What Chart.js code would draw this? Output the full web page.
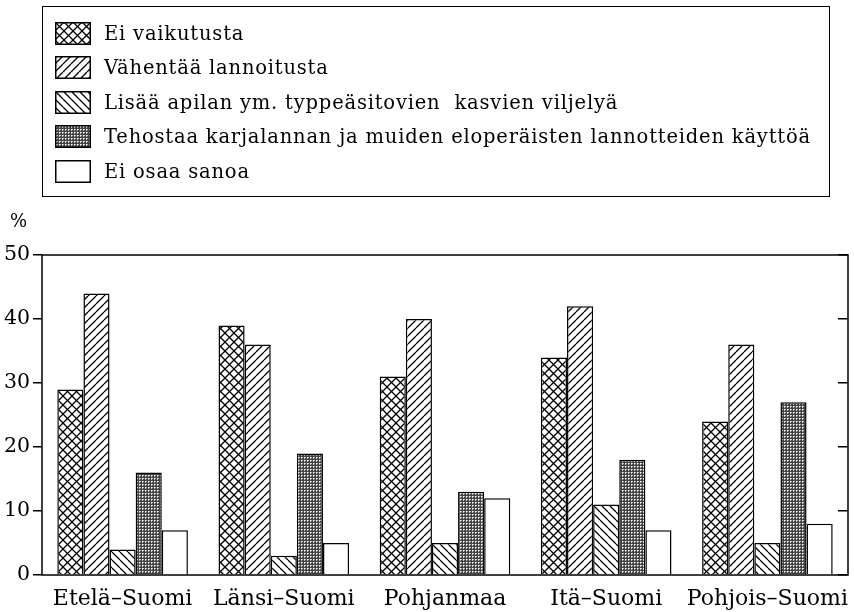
<!DOCTYPE html>
<html>
<head>
<meta charset="utf-8">
<script src="https://cdn.jsdelivr.net/npm/chart.js@4.4.1/dist/chart.umd.min.js"></script>
<style>
html, body { margin: 0; padding: 0; background: #fff; }
#wrap { position: relative; width: 854px; height: 612px; }
#legend {
    position: absolute; left: 42px; top: 6px; width: 788px; height: 191px;
    border: 1.5px solid #000; box-sizing: border-box;
    font-family: 'DejaVu Serif', serif; font-size: 19.5px; letter-spacing: 0.8px; color: #000;
}
.item { position: absolute; left: 12px; height: 23px; display: flex; align-items: center; white-space: pre; }
.item canvas { margin-right: 13px; }
#unit { position: absolute; left: 10px; top: 210px; font-family: 'DejaVu Serif', serif; font-size: 18px; color: #000; }
#chart { position: absolute; left: 0; top: 0; }
</style>
</head>
<body>
<div id="wrap">
    <canvas id="chart" width="854" height="612"></canvas>
    <div id="legend"></div>
    <div id="unit"></div>
</div>
<script>
// 데이터
const regions = ['Etelä–Suomi', 'Länsi–Suomi', 'Pohjanmaa', 'Itä–Suomi', 'Pohjois–Suomi'];
const seriesLabels = [
    'Ei vaikutusta',
    'Vähentää lannoitusta',
    'Lisää apilan ym. typpeäsitovien  kasvien viljelyä',
    'Tehostaa karjalannan ja muiden eloperäisten lannotteiden käyttöä',
    'Ei osaa sanoa'
];
const eiVaikutusta = [29, 39, 31, 34, 24];
const vahentaa = [44, 36, 40, 42, 36];
const lisaaApilan = [4, 3, 5, 11, 5];
const tehostaa = [16, 19, 13, 18, 27];
const eiOsaa = [7, 5, 12, 7, 8];
const yTicks = [0, 10, 20, 30, 40, 50];
const unitLabel = '%';

const seriesData = [eiVaikutusta, vahentaa, lisaaApilan, tehostaa, eiOsaa];
const patternKinds = ['cross', 'fwd', 'back', 'dots', 'none'];

// 해칭 패턴
function makePattern(kind, ctx) {
    const c = document.createElement('canvas');
    const s = kind === 'dots' ? 3 : (kind === 'cross' ? 9 : 8);
    c.width = s; c.height = s;
    const g = c.getContext('2d');
    g.fillStyle = '#fff';
    g.fillRect(0, 0, s, s);
    g.strokeStyle = '#000';
    g.lineWidth = 1.3;
    if (kind === 'cross' || kind === 'fwd') {
        g.beginPath();
        [-s, 0, s].forEach(k => { g.moveTo(k, s); g.lineTo(k + s, 0); });
        g.stroke();
    }
    if (kind === 'cross' || kind === 'back') {
        g.beginPath();
        [-s, 0, s].forEach(k => { g.moveTo(k, 0); g.lineTo(k + s, s); });
        g.stroke();
    }
    if (kind === 'dots') {
        g.fillStyle = '#444';
        g.fillRect(0, 0, s, s);
        g.fillStyle = '#fff';
        g.fillRect(1, 1, 1, 1);
        g.fillStyle = '#bbb';
        g.fillRect(2, 1, 1, 1);
        g.fillRect(1, 2, 1, 1);
    }
    return (ctx || g).createPattern(c, 'repeat');
}

const chartCtx = document.getElementById('chart').getContext('2d');

const datasets = seriesLabels.map((label, i) => ({
    label,
    data: seriesData[i],
    backgroundColor: makePattern(patternKinds[i], chartCtx),
    borderColor: '#000',
    borderWidth: 1.5,
    borderSkipped: 'bottom',
    categoryPercentage: 0.81,
    barPercentage: 1.0
}));

// 범례 (HTML)
const legendEl = document.getElementById('legend');
seriesLabels.forEach((label, i) => {
    const item = document.createElement('div');
    item.className = 'item';
    item.style.top = (14.5 + i * 34.5) + 'px';
    const sw = document.createElement('canvas');
    sw.width = 36; sw.height = 23;
    const g = sw.getContext('2d');
    g.fillStyle = makePattern(patternKinds[i], g);
    g.fillRect(0, 0, 36, 23);
    g.strokeStyle = '#000';
    g.lineWidth = 1.5;
    g.strokeRect(0.75, 0.75, 34.5, 21.5);
    item.appendChild(sw);
    const span = document.createElement('span');
    span.textContent = label;
    item.appendChild(span);
    legendEl.appendChild(item);
});
document.getElementById('unit').textContent = unitLabel;

const framePlugin = {
    id: 'frame',
    afterDatasetsDraw(chart) {
        const { ctx, chartArea: a } = chart;
        ctx.save();
        ctx.strokeStyle = '#000';
        ctx.lineWidth = 1.5;
        ctx.strokeRect(a.left, a.top, a.right - a.left, a.bottom - a.top);
        ctx.restore();
    }
};

const font = { family: "'DejaVu Serif', serif", size: 20.5 };

new Chart(chartCtx, {
    type: 'bar',
    data: { labels: regions, datasets },
    plugins: [framePlugin],
    options: {
        responsive: false,
        animation: false,
        layout: { padding: { top: 255, left: 0, right: 0, bottom: 0 } },
        scales: {
            x: {
                grid: { display: false },
                border: { display: false },
                ticks: { font: { family: "'DejaVu Serif', serif", size: 22 }, color: '#000', padding: 3, maxRotation: 0, autoSkip: false },
                afterFit: s => { s.height = 37; }
            },
            y: {
                min: 0, max: 50,
                afterBuildTicks: s => { s.ticks = yTicks.map(v => ({ value: v })); },
                grid: { drawOnChartArea: false, tickLength: 9, color: '#000', lineWidth: 1.5 },
                border: { display: false },
                ticks: { font, color: '#000', padding: 3 },
                afterFit: s => { s.width = 42; }
            },
            y2: {
                position: 'right',
                min: 0, max: 50,
                afterBuildTicks: s => { s.ticks = yTicks.map(v => ({ value: v })); },
                grid: { drawOnChartArea: false, tickLength: -10, color: '#000', lineWidth: 1.5 },
                border: { display: false },
                ticks: { display: false },
                afterFit: s => { s.width = 6; }
            }
        },
        plugins: {
            legend: { display: false },
            tooltip: { enabled: false },
            title: { display: false }
        }
    }
});
</script>
</body>
</html>
